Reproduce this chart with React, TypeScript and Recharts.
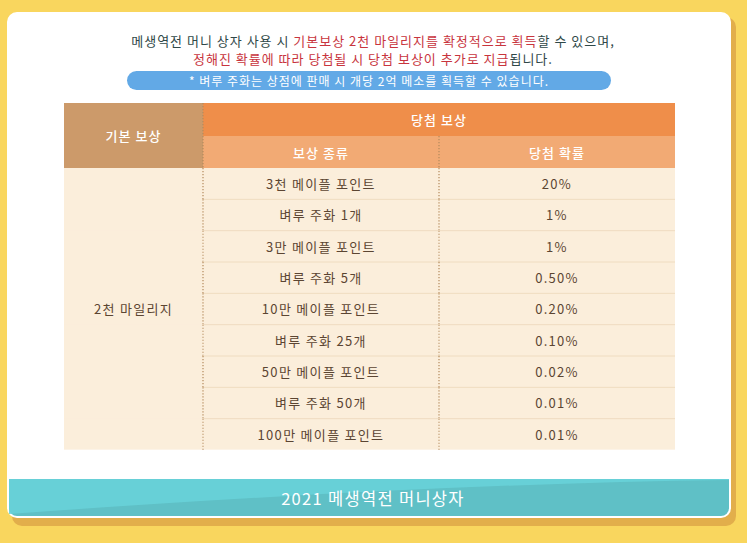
import { Bar, ComposedChart, Customized, XAxis, YAxis } from "recharts";

const rewardTypes = [
  "3천 메이플 포인트",
  "벼루 주화 1개",
  "3만 메이플 포인트",
  "벼루 주화 5개",
  "10만 메이플 포인트",
  "벼루 주화 25개",
  "50만 메이플 포인트",
  "벼루 주화 50개",
  "100만 메이플 포인트",
];
const winRates = ["20%", "1%", "1%", "0.50%", "0.20%", "0.10%", "0.02%", "0.01%", "0.01%"];
const baseReward = "2천 마일리지";
const headers = { base: "기본 보상", win: "당첨 보상", type: "보상 종류", rate: "당첨 확률" };
const titleLine1 = [
  { text: "메생역전 머니 상자 사용 시 ", red: false },
  { text: "기본보상 2천 마일리지를 확정적으로 획득", red: true },
  { text: "할 수 있으며,", red: false },
];
const titleLine2 = [
  { text: "정해진 확률에 따라 당첨될 시 당첨 보상이 추가로 지급", red: true },
  { text: "됩니다.", red: false },
];
const note = "* 벼루 주화는 상점에 판매 시 개당 2억 메소를 획득할 수 있습니다.";
const banner = "2021 메생역전 머니상자";

const data = rewardTypes.map((reward, i) => ({ reward, rate: winRates[i], full: 1 }));

const W = 747;
const H = 543;
const FONT = "'Noto Sans CJK KR', 'Noto Sans', sans-serif";
const M = { top: 168, right: 72, bottom: 93, left: 64 };
// column splits as fraction of table width
const COL1 = 139 / 611;
const COL2 = 375 / 611;
const DOT = "#b48a5c";
const BODY_TEXT = "#5b4532";

function RowShape(props: any) {
  const { x, y, width, height, index, payload } = props;
  const c1 = x + width * COL1;
  const c2 = x + width * COL2;
  const cy = y + height / 2;
  const last = index === rewardTypes.length - 1;
  return (
    <g fontFamily={FONT} fontSize={13} fill={BODY_TEXT} letterSpacing={1.3}>
      <rect x={x} y={y} width={width} height={last ? height : height + 1} fill="#fbeedb" />
      {index > 0 && (
        <line x1={c1} x2={x + width} y1={y} y2={y} stroke="#efdcc0" strokeWidth={1} />
      )}
      <line x1={c1} x2={c1} y1={y} y2={y + height} stroke={DOT} strokeWidth={1.2} strokeDasharray="1.2 1.8" />
      <line x1={c2} x2={c2} y1={y} y2={y + height} stroke={DOT} strokeWidth={1.2} strokeDasharray="1.2 1.8" />
      <text x={(c1 + c2) / 2} y={cy} textAnchor="middle" dominantBaseline="central">
        {payload.reward}
      </text>
      <text x={(c2 + x + width) / 2} y={cy} textAnchor="middle" dominantBaseline="central">
        {payload.rate}
      </text>
      {index === Math.floor(rewardTypes.length / 2) && (
        <text x={(x + c1) / 2} y={cy} textAnchor="middle" dominantBaseline="central">
          {baseReward}
        </text>
      )}
    </g>
  );
}

function Backdrop() {
  return (
    <g fontFamily={FONT}>
      <rect x={0} y={0} width={W} height={H} fill="#f9d65e" />
      <rect x={12} y={17} width={724} height={509} rx={10} fill="#e2ae4b" />
      <rect x={7} y={12} width={724} height={506} rx={10} fill="#ffffff" />
      <path d="M9 479 H729 V508 a8 8 0 0 1 -8 8 H17 a8 8 0 0 1 -8 -8 Z" fill="#5fc0c6" />
      <path d="M9 479 H729 L 729 480 Q 420 484 9 514 Z" fill="#68d1d8" opacity={0.9} />
      <text x={373} y={498} textAnchor="middle" dominantBaseline="central" fontSize={16.5} fill="#ffffff" letterSpacing={1.3}>
        {banner}
      </text>
      <text x={373} y={39.5} textAnchor="middle" dominantBaseline="central" fontSize={13} letterSpacing={1}>
        {titleLine1.map((s, i) => (
          <tspan key={i} fill={s.red ? "#c8343d" : "#2f4848"}>{s.text}</tspan>
        ))}
      </text>
      <text x={373} y={57.5} textAnchor="middle" dominantBaseline="central" fontSize={13} letterSpacing={1}>
        {titleLine2.map((s, i) => (
          <tspan key={i} fill={s.red ? "#c8343d" : "#2f4848"}>{s.text}</tspan>
        ))}
      </text>
      <rect x={127} y={71} width={484} height={19} rx={9.5} fill="#62a9e6" />
      <text x={369} y={80.5} textAnchor="middle" dominantBaseline="central" fontSize={12} fill="#ffffff" letterSpacing={1}>
        {note}
      </text>
    </g>
  );
}

function Header() {
  const x = M.left;
  const w = W - M.left - M.right;
  const c1 = x + w * COL1;
  const c2 = x + w * COL2;
  const y0 = 103;
  const y1 = 136;
  const y2 = M.top;
  return (
    <g fontFamily={FONT} fontSize={13} fill="#ffffff" letterSpacing={1}>
      <rect x={x} y={y0} width={c1 - x} height={y2 - y0} fill="#cc9a6a" />
      <rect x={c1} y={y0} width={x + w - c1} height={y1 - y0} fill="#ef8e4a" />
      <rect x={c1} y={y1} width={x + w - c1} height={y2 - y1} fill="#f2aa74" />
      <line x1={c1} x2={c1} y1={y0} y2={y2} stroke={DOT} strokeWidth={1.2} strokeDasharray="1.2 1.8" />
      <line x1={c2} x2={c2} y1={y1} y2={y2} stroke={DOT} strokeWidth={1.2} strokeDasharray="1.2 1.8" />
      <text x={(x + c1) / 2} y={(y0 + y2) / 2} textAnchor="middle" dominantBaseline="central" fontWeight={500}>
        {headers.base}
      </text>
      <text x={(c1 + x + w) / 2} y={(y0 + y1) / 2} textAnchor="middle" dominantBaseline="central" fontWeight={500}>
        {headers.win}
      </text>
      <text x={(c1 + c2) / 2} y={(y1 + y2) / 2} textAnchor="middle" dominantBaseline="central" fontWeight={500}>
        {headers.type}
      </text>
      <text x={(c2 + x + w) / 2} y={(y1 + y2) / 2} textAnchor="middle" dominantBaseline="central" fontWeight={500}>
        {headers.rate}
      </text>
    </g>
  );
}

export default function App() {
  return (
    <div style={{ position: "absolute", left: 0, top: 0, width: W, height: H }}>
      <ComposedChart width={W} height={H} data={data} layout="vertical" margin={M} barCategoryGap={0}>
        <Customized component={Backdrop} />
        <XAxis type="number" domain={[0, 1]} hide />
        <YAxis type="category" dataKey="reward" hide />
        <Customized component={Header} />
        <Bar dataKey="full" shape={RowShape} isAnimationActive={false} />
      </ComposedChart>
    </div>
  );
}
